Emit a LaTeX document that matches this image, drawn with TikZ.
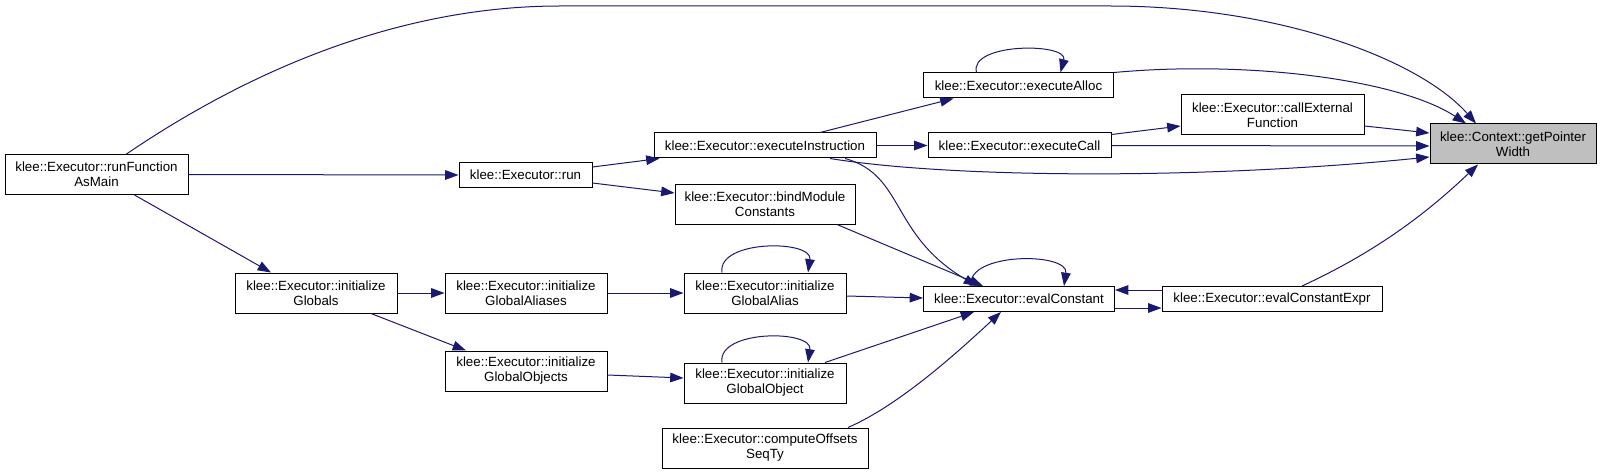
\documentclass[tikz,border=0pt]{standalone}
\usepackage{fontspec}
\setmainfont{Liberation Sans}
\usetikzlibrary{arrows.meta,calc}
\definecolor{KleeEdge}{HTML}{191970}
\definecolor{KleeFocus}{HTML}{BFBFBF}

\begin{document}
\begin{tikzpicture}[x=0.75pt,y=-0.75pt,
    fnbox/.style={draw=black,line width=0.75pt,fill=white,align=center,
      inner sep=1pt,minimum height=18.75pt,
      font=\fontsize{10}{11.25}\selectfont},
    twoline/.style={minimum height=30pt},
    call/.style={-{Triangle[length=10pt,width=7.2pt]},KleeEdge,line width=0.75pt}]

        \useasboundingbox (0,0) rectangle (1601,474);

        \node[fnbox,twoline,minimum width=137.25pt] (runmain)
          at (96.5,174.5) {klee::Executor::runFunction\\AsMain};

        \node[fnbox,minimum width=99.75pt] (run)
          at (525.5,175) {klee::Executor::run};

        \node[fnbox,minimum width=166.5pt] (einst)
          at (765,145.5) {klee::Executor::executeInstruction};

        \node[fnbox,twoline,minimum width=135pt] (bindmod)
          at (765,204) {klee::Executor::bindModule\\Constants};

        \node[fnbox,minimum width=142.5pt] (ealloc)
          at (1018.5,85.5) {klee::Executor::executeAlloc};

        \node[fnbox,twoline,minimum width=137.25pt] (extcall)
          at (1272.5,115) {klee::Executor::callExternal\\Function};

        \node[fnbox,minimum width=137.25pt] (ecall)
          at (1019.5,145.5) {klee::Executor::executeCall};

        \node[fnbox,twoline,fill=KleeFocus,minimum width=124.5pt] (ptrwidth)
          at (1513,144) {klee::Context::getPointer\\Width};

        \node[fnbox,twoline,minimum width=121.5pt] (initglob)
          at (316,293) {klee::Executor::initialize\\Globals};

        \node[fnbox,twoline,minimum width=121.5pt] (initaliases)
          at (526,293) {klee::Executor::initialize\\GlobalAliases};

        \node[fnbox,twoline,minimum width=121.5pt] (initobjects)
          at (526,371) {klee::Executor::initialize\\GlobalObjects};

        \node[fnbox,twoline,minimum width=121.5pt] (initalias)
          at (765,293) {klee::Executor::initialize\\GlobalAlias};

        \node[fnbox,twoline,minimum width=121.5pt] (initobject)
          at (765,383) {klee::Executor::initialize\\GlobalObject};

        \node[fnbox,minimum width=143.25pt] (evalc)
          at (1019,299) {klee::Executor::evalConstant};

        \node[fnbox,minimum width=165pt] (evalexpr)
          at (1272,299) {klee::Executor::evalConstantExpr};

        \node[fnbox,twoline,minimum width=154.5pt] (offsets)
          at (765,448) {klee::Executor::computeOffsets\\SeqTy};

        % callers of getPointerWidth
        \draw[call]
          ($(runmain.north)+(30,0)$) .. controls (250,70) and (400,6) .. (560,6)
          -- (1110,6) .. controls (1280,6) and (1420,60) .. ($(ptrwidth.north)+(-37,0)$);

        \draw[call]
          (ealloc.north east) .. controls (1250,60) and (1400,80) .. ($(ptrwidth.north)+(-47,0)$);

        \draw[call]
          ($(extcall.east)+(0,11)$) -- ($(ptrwidth.west)+(0,-11)$);

        \draw[call]
          (ecall.east) -- ($(ptrwidth.west)+(0,2)$);

        \draw[call]
          ($(einst.south)+(65,0)$) .. controls (950,178) and (1200,180) .. ($(ptrwidth.west)+(0,13)$);

        \draw[call]
          ($(evalexpr.north)+(30,0)$) .. controls (1380,250) and (1430,210) .. ($(ptrwidth.south)+(-35,0)$);

        % run and its callees
        \draw[call]
          (runmain.east) -- (run.west);

        \draw[call]
          ($(run.east)+(0,-8)$) -- ($(einst.south west)+(6,0)$);

        \draw[call]
          ($(run.east)+(0,8)$) -- ($(bindmod.west)+(0,-11)$);

        \draw[call]
          ($(einst.north)+(55,0)$) -- ($(ealloc.south)+(-65,0)$);

        \draw[call]
          (einst.east) -- (ecall.west);

        \draw[call]
          ($(ecall.east)+(0,-11)$) -- ($(extcall.west)+(0,11)$);

        \draw[call]
          ($(einst.south)+(80,0)$) .. controls (905,175) and (890,235) .. ($(evalc.north)+(-42,0)$);

        \draw[call]
          ($(bindmod.south)+(72,0)$) -- ($(evalc.north)+(-36,0)$);

        % globals
        \draw[call]
          ($(runmain.south)+(38,0)$) -- ($(initglob.north)+(-45,0)$);

        \draw[call]
          (initglob.east) -- (initaliases.west);

        \draw[call]
          ($(initglob.south)+(55,0)$) -- ($(initobjects.north)+(-60,0)$);

        \draw[call]
          (initaliases.east) -- (initalias.west);

        \draw[call]
          ($(initobjects.east)+(0,4)$) -- ($(initobject.west)+(0,-5)$);

        \draw[call]
          ($(initalias.east)+(0,3)$) -- ($(evalc.west)+(0,-1)$);

        \draw[call]
          ($(initobject.north)+(60,0)$) -- ($(evalc.south)+(-45,0)$);

        \draw[call]
          ($(offsets.north)+(83,0)$) .. controls (900,405) and (960,350) .. ($(evalc.south)+(-18,0)$);

        \draw[call]
          ($(evalc.east)+(0,9)$) -- ($(evalexpr.west)+(0,9)$);

        \draw[call]
          ($(evalexpr.west)+(0,-9)$) -- ($(evalc.east)+(0,-9)$);

        % recursive calls
        \draw[call]
          ($(ealloc.north)+(-42,0)$) .. controls +(-8,-30) and +(8,-30) .. ($(ealloc.north)+(42,0)$);

        \draw[call]
          ($(evalc.north)+(-48,0)$) .. controls +(-5,-34) and +(5,-34) .. ($(evalc.north)+(45,0)$);

        \draw[call]
          ($(initalias.north)+(-43,0)$) .. controls +(-5,-33) and +(5,-33) .. ($(initalias.north)+(43,0)$);

        \draw[call]
          ($(initobject.north)+(-43,0)$) .. controls +(-5,-33) and +(5,-33) .. ($(initobject.north)+(43,0)$);

\end{tikzpicture}
\end{document}
